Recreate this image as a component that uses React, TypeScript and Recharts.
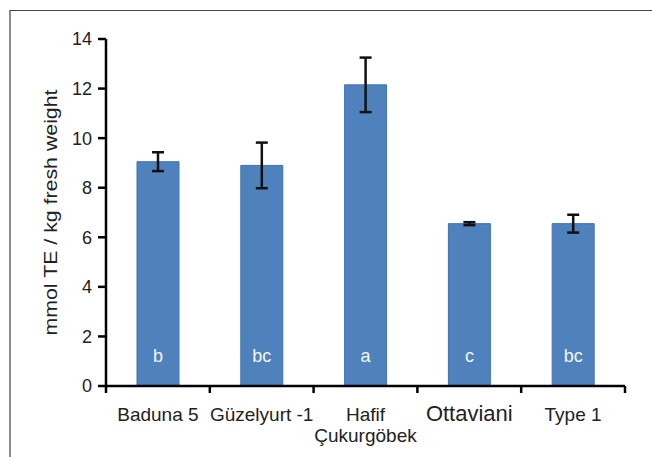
import React from 'react'
import {
  BarChart,
  Bar,
  XAxis,
  YAxis,
  ErrorBar,
  LabelList,
} from 'recharts'

const categories = ['Baduna 5', 'Güzelyurt -1', 'Hafif\nÇukurgöbek', 'Ottaviani', 'Type 1']
const values = [9.05, 8.9, 12.15, 6.55, 6.55]
const errors = [0.38, 0.92, 1.1, 0.06, 0.36]
const letters = ['b', 'bc', 'a', 'c', 'bc']
const yTicks = [0, 2, 4, 6, 8, 10, 12, 14]

const data = categories.map((name, i) => ({
  name,
  value: values[i],
  err: errors[i],
  letter: letters[i],
}))

const FONT = '"Liberation Sans", Arial, sans-serif'

// category label + tick marks at the band edges
const CatTick = (props: any) => {
  const { x, y, payload, index } = props
  const half = payload.offset || 0
  const lines = String(payload.value).split('\n')
  const big = payload.value === 'Ottaviani'
  return (
    <g>
      <line x1={x - half} x2={x - half} y1={y} y2={y + 7} stroke="#000" strokeWidth={2.5} />
      {index === categories.length - 1 && (
        <line x1={x + half} x2={x + half} y1={y} y2={y + 7} stroke="#000" strokeWidth={2.5} />
      )}
      <text
        x={x}
        y={y + 35}
        textAnchor="middle"
        fontFamily={FONT}
        fontSize={big ? 22 : 19}
        fill="#222"
      >
        {lines.map((l, i) => (
          <tspan key={i} x={x} dy={i === 0 ? 0 : 21}>
            {l}
          </tspan>
        ))}
      </text>
    </g>
  )
}

const YLabel = (props: any) => {
  const { viewBox } = props
  const cx = 50
  const cy = viewBox.y + viewBox.height / 2
  return (
    <text
      x={cx}
      y={cy}
      transform={`rotate(-90, ${cx}, ${cy})`}
      textAnchor="middle"
      dominantBaseline="central"
      fontFamily={FONT}
      fontSize={19}
      fill="#222"
      textLength={246}
      lengthAdjust="spacingAndGlyphs"
    >
      mmol TE / kg fresh weight
    </text>
  )
}

const LetterLabel = (props: any) => {
  const { x, y, width, height, value } = props
  return (
    <text
      x={x + width / 2}
      y={y + height - 30}
      textAnchor="middle"
      dominantBaseline="central"
      fontFamily={FONT}
      fontSize={18}
      fill="#f4f7fb"
    >
      {value}
    </text>
  )
}

export default function App() {
  return (
    <div style={{ position: 'absolute', left: 0, top: 0, width: 652, height: 457, background: '#fff' }}>
      <div
        style={{
          position: 'absolute',
          left: 9,
          top: 10,
          width: 643,
          height: 447,
          borderTop: '1.5px solid #444',
          borderLeft: '2px solid #8a8a8a',
          boxSizing: 'border-box',
        }}
      />
      <div style={{ position: 'absolute', left: 0, top: 0 }}>
        <BarChart
          width={652}
          height={457}
          data={data}
          margin={{ top: 39, right: 27, left: 0, bottom: 11 }}
          barCategoryGap={0}
        >
          <XAxis
            dataKey="name"
            height={60}
            interval={0}
            axisLine={{ stroke: '#000', strokeWidth: 2.5 }}
            tickLine={false}
            tickSize={0}
            tickMargin={0}
            tick={<CatTick />}
          />
          <YAxis
            width={106}
            domain={[0, 14]}
            ticks={yTicks}
            interval={0}
            axisLine={{ stroke: '#000', strokeWidth: 2.5 }}
            tickLine={{ stroke: '#000', strokeWidth: 2.5 }}
            tickSize={8}
            tickMargin={6}
            tick={{ fontFamily: FONT, fontSize: 18, fill: '#222' }}
            label={<YLabel />}
          />
          <Bar
            dataKey="value"
            barSize={42}
            fill="#4F81BD"
            stroke="#3f73b3"
            strokeWidth={1}
            isAnimationActive={false}
          >
            <ErrorBar dataKey="err" direction="y" width={6} stroke="#111" strokeWidth={2.5} />
            <LabelList dataKey="letter" content={<LetterLabel />} />
          </Bar>
        </BarChart>
      </div>
    </div>
  )
}
